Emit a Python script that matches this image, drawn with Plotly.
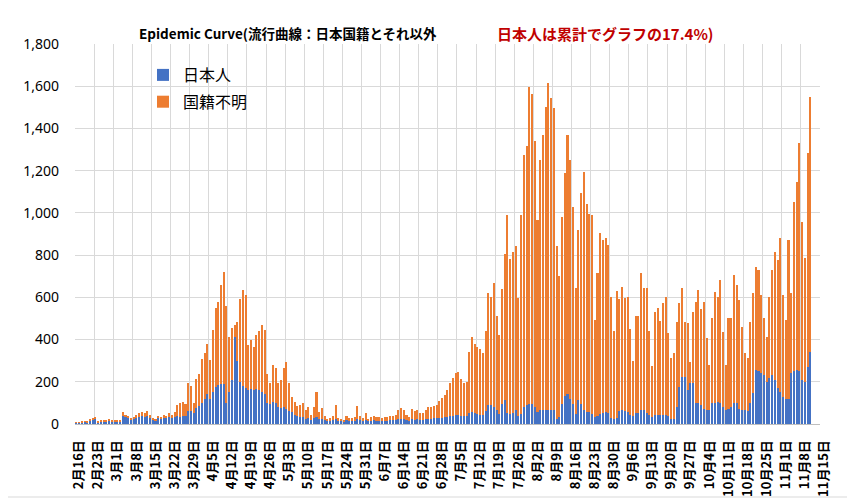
import pandas as pd
import plotly.graph_objects as go

# daily counts from 2020-02-16 (Sun), one row per week
start_day = "2020-02-16 12:00"

japanese = [
    6, 5, 8, 10, 8, 15, 18,
    25, 9, 10, 14, 12, 15, 10,
    10, 10, 14, 40, 32, 28, 20,
    25, 30, 35, 38, 35, 40, 30,
    20, 18, 28, 25, 30, 28, 35,
    30, 35, 40, 35, 40, 40, 60,
    60, 50, 75, 85, 100, 120, 140,
    120, 150, 175, 185, 190, 190, 100,
    150, 210, 410, 300, 200, 180, 170,
    160, 165, 160, 165, 160, 150, 140,
    100, 95, 105, 100, 80, 75, 80,
    70, 60, 55, 45, 40, 35, 35,
    25, 30, 20, 30, 35, 25, 25,
    18, 12, 14, 18, 25, 14, 12,
    10, 18, 14, 14, 15, 25, 18,
    14, 20, 12, 15, 18, 15, 15,
    14, 15, 15, 18, 18, 20, 25,
    25, 22, 18, 15, 22, 20, 22,
    20, 18, 22, 25, 25, 28, 28,
    30, 28, 32, 35, 40, 40, 45,
    45, 40, 38, 40, 50, 55, 50,
    48, 45, 45, 60, 90, 88, 80,
    64, 48, 96, 112, 50, 48, 50,
    64, 40, 48, 80, 88, 96, 96,
    80, 56, 64, 64, 64, 64, 64,
    64, 24, 32, 96, 135, 143, 120,
    96, 48, 112, 96, 64, 56, 56,
    48, 32, 40, 48, 50, 55, 50,
    30, 25, 30, 60, 66, 60, 55,
    45, 40, 50, 50, 66, 66, 50,
    42, 35, 42, 45, 45, 42, 45,
    40, 22, 25, 82, 177, 224, 224,
    161, 193, 193, 98, 98, 90, 70,
    66, 66, 98, 98, 106, 98, 80,
    66, 70, 80, 98, 98, 70, 66,
    66, 60, 98, 145, 255, 250, 240,
    230, 200, 220, 230, 210, 170, 150,
    130, 120, 120, 240, 250, 255, 250,
    210, 200, 270, 340,
]

unknown = [
    2, 1, 2, 4, 2, 7, 10,
    10, 3, 5, 6, 6, 7, 5,
    5, 5, 6, 15, 13, 12, 10,
    10, 15, 15, 17, 15, 20, 15,
    10, 7, 12, 10, 15, 12, 15,
    15, 20, 50, 65, 65, 55, 135,
    120, 50, 140, 150, 210, 215, 240,
    185, 295, 375, 395, 470, 530, 460,
    260, 245, 60, 185, 390, 455, 440,
    215, 235, 205, 255, 280, 320, 305,
    135, 100, 175, 165, 115, 135, 185,
    225, 135, 75, 60, 45, 55, 65,
    40, 50, 25, 50, 115, 30, 50,
    22, 13, 16, 22, 65, 16, 13,
    10, 22, 16, 16, 20, 60, 22,
    16, 30, 13, 20, 22, 20, 20,
    16, 20, 20, 22, 22, 25, 40,
    50, 43, 27, 20, 48, 40, 43,
    30, 32, 43, 55, 57, 57, 62,
    80, 94, 105, 126, 155, 180, 195,
    200, 175, 157, 160, 290, 355, 330,
    317, 310, 290, 380, 530, 512, 590,
    449, 374, 542, 693, 938, 733, 763,
    781, 558, 940, 1192, 1227, 1501, 1466,
    1259, 908, 1187, 1307, 1438, 1549, 1482,
    1434, 821, 669, 884, 1053, 1228, 1131,
    932, 598, 805, 996, 1132, 988, 940,
    940, 462, 677, 855, 822, 825, 798,
    570, 415, 600, 530, 584, 535, 545,
    405, 260, 460, 460, 649, 579, 595,
    398, 240, 488, 505, 445, 530, 558,
    390, 289, 310, 403, 395, 419, 261,
    319, 102, 339, 482, 537, 453, 510,
    340, 214, 402, 529, 497, 584, 357,
    214, 430, 420, 608, 560, 517, 394,
    269, 251, 387, 475, 490, 479, 370,
    270, 214, 380, 499, 606, 607, 730,
    481, 373, 752, 379, 803, 893, 1080,
    748, 585, 1012, 1210,
]

days = pd.date_range(start_day, periods=len(japanese), freq="D")

fig = go.Figure()
fig.add_trace(go.Bar(x=days, y=japanese, name="日本人", legendgroup="jp",
                     marker=dict(color="#4472C4", line_width=0)))
fig.add_trace(go.Bar(x=days, y=unknown, name="国籍不明", legendgroup="unk",
                     marker=dict(color="#ED7D31", line_width=0)))

# the page body adds an 8px margin, so the figure is 8px smaller
OFF = 8
W, H = 855 - OFF, 501 - OFF
# plot area in page pixels: 75..820 wide, 44..424 high
L, R, T, B = 75, 820, 44, 424


def px_x(p):
    return (p - L) / (R - L)


def px_y(p):
    return (B - p) / (B - T)


fig.update_layout(
    width=W, height=H,
    barmode="stack", bargap=0.25,
    margin=dict(l=L - OFF, r=855 - R, t=T - OFF, b=501 - B),
    paper_bgcolor="white", plot_bgcolor="white",
    font=dict(family="Noto Sans CJK JP", size=14, color="#000000"),
    legend=dict(x=px_x(143), y=px_y(58), xanchor="left", yanchor="top",
                traceorder="grouped", tracegroupgap=3,
                font=dict(size=16, color="#000000"),
                bgcolor="rgba(0,0,0,0)"),
    annotations=[
        dict(text="<b>Epidemic Curve(流行曲線：日本国籍とそれ以外</b>",
             x=px_x(137), y=px_y(33), xref="paper", yref="paper",
             xanchor="left", yanchor="middle", showarrow=False,
             font=dict(size=13.5, color="#000000")),
        dict(text="<b>日本人は累計でグラフの17.4%)</b>",
             x=px_x(495), y=px_y(33), xref="paper", yref="paper",
             xanchor="left", yanchor="middle", showarrow=False,
             font=dict(size=15, color="#C00000")),
    ],
    shapes=[
        dict(type="rect", xref="paper", yref="paper",
             x0=px_x(1), x1=px_x(853), y0=px_y(497), y1=px_y(1),
             line=dict(color="#D9D9D9", width=1), layer="below"),
    ],
)

fig.update_xaxes(
    type="date", automargin=False,
    range=["2020-02-16", "2020-11-15 01:00"],
    tick0="2020-02-16", dtick=7 * 86400000,
    tickformat="%-m月%-d日", tickangle=-90,
    ticklabelshift=4, ticklabelstandoff=10,
    tickfont=dict(size=13, weight="bold", color="#000000"),
    showgrid=True, gridcolor="#D9D9D9", gridwidth=1,
    showline=True, linecolor="#BFBFBF", ticks="",
)
fig.update_yaxes(
    range=[0, 1800], dtick=200, tickformat=",", automargin=False,
    tickfont=dict(family="Noto Sans", size=14, color="#000000"),
    ticklabelstandoff=15,
    showgrid=True, gridcolor="#D9D9D9", gridwidth=1,
    zeroline=False, showline=False, ticks="",
)

fig.write_html("out.html")
